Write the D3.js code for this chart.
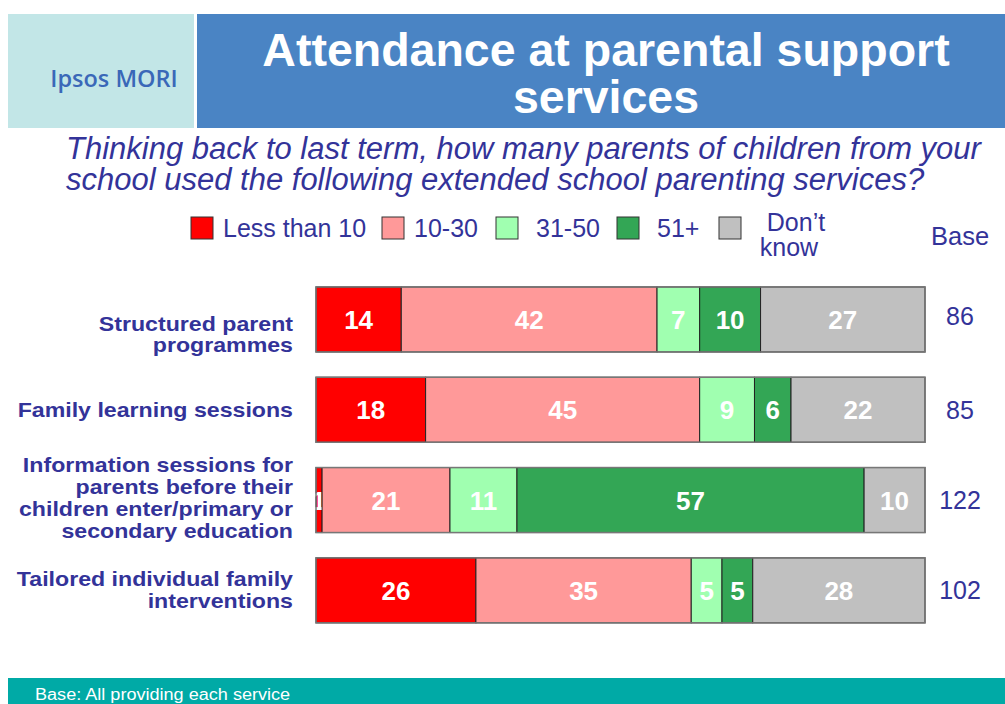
<!DOCTYPE html>
<html>
<head>
<meta charset="utf-8">
<script src="https://cdn.jsdelivr.net/npm/d3@7"></script>
<style>
  body { margin: 0; background: #fff; }
  svg { display: block; font-family: Arial, "Liberation Sans", sans-serif; }
</style>
</head>
<body>
<div id="graph"></div>
<script>
// Données
const services = [
  ['Structured parent', 'programmes'],
  ['Family learning sessions'],
  ['Information sessions for', 'parents before their', 'children enter/primary or', 'secondary education'],
  ['Tailored individual family', 'interventions']
]
const categories = ['Less than 10', '10-30', '31-50', '51+', "Don\u2019t know"]
const lessThan10 = [14, 18, 1, 26]
const from10to30 = [42, 45, 21, 35]
const from31to50 = [7, 9, 11, 5]
const over51 = [10, 6, 57, 5]
const dontKnow = [27, 22, 10, 28]
const bases = [86, 85, 122, 102]

const couleurs = ['#ff0000', '#ff9999', '#a0ffb0', '#33a655', '#c0c0c0']
const bleuTexte = '#333399'

const width = 1005
const height = 704
const etirement = 1.13 // le texte de la diapo d'origine est étiré horizontalement

const svg = d3.select('#graph')
  .append('svg')
  .attr('width', width)
  .attr('height', height)

//---------------------------------------------------------------------------------------
// Bandeau titre

svg.append('rect')
  .attr('x', 8).attr('y', 14).attr('width', 186).attr('height', 114)
  .attr('fill', '#c2e6e7')

svg.append('text')
  .attr('x', 114).attr('y', 87)
  .attr('text-anchor', 'middle')
  .attr('font-family', '"Open Sans", sans-serif')
  .attr('font-weight', 600)
  .attr('font-size', 23.5)
  .attr('fill', '#3a68b8')
  .text('Ipsos MORI')

svg.append('rect')
  .attr('x', 197).attr('y', 14).attr('width', 808).attr('height', 114)
  .attr('fill', '#4a84c4')

const titre = svg.append('text')
  .attr('text-anchor', 'middle')
  .attr('font-weight', 'bold')
  .attr('font-size', 46.5)
  .attr('fill', '#fff')

titre.append('tspan').attr('x', 606).attr('y', 66).text('Attendance at parental support')
titre.append('tspan').attr('x', 606).attr('y', 113).text('services')

// Sous-titre
const sousTitre = svg.append('text')
  .attr('font-style', 'italic')
  .attr('font-size', 31)
  .attr('fill', bleuTexte)

sousTitre.append('tspan').attr('x', 66).attr('y', 159)
  .text('Thinking back to last term, how many parents of children from your')
sousTitre.append('tspan').attr('x', 66).attr('y', 190)
  .text('school used the following extended school parenting services?')

//---------------------------------------------------------------------------------------
// Légende

const legendeX = [191, 382, 496, 617, 719]
const legende = svg.append('g').attr('class', 'legende')

categories.forEach((c, i) => {
  legende.append('rect')
    .attr('x', legendeX[i]).attr('y', 217)
    .attr('width', 22).attr('height', 22)
    .attr('fill', couleurs[i])
    .attr('stroke', '#333').attr('stroke-width', 1)

  if (i < 4) {
    legende.append('text')
      .attr('x', legendeX[i] + (i >= 2 ? 40 : 32))
      .attr('y', 237)
      .attr('font-size', 25)
      .attr('fill', bleuTexte)
      .text(c)
  } else {
    const t = legende.append('text')
      .attr('text-anchor', 'middle')
      .attr('font-size', 25)
      .attr('fill', bleuTexte)
    t.append('tspan').attr('x', 796).attr('y', 231).text('Don\u2019t')
    t.append('tspan').attr('x', 789).attr('y', 256).text('know')
  }
})

svg.append('text')
  .attr('x', 960).attr('y', 245)
  .attr('text-anchor', 'middle')
  .attr('font-size', 25.5)
  .attr('fill', bleuTexte)
  .text('Base')

//---------------------------------------------------------------------------------------
// Barres empilées

const table = services.map((s, i) => ({
  idx: i,
  'Less than 10': lessThan10[i],
  '10-30': from10to30[i],
  '31-50': from31to50[i],
  '51+': over51[i],
  "Don\u2019t know": dontKnow[i]
}))

const stack = d3.stack()
  .keys(categories)
  .offset(d3.stackOffsetExpand)

const series = stack(table)

const scaleX = d3.scaleLinear().domain([0, 1]).range([316, 925])
const scaleY = d3.scaleBand()
  .domain(d3.range(services.length))
  .range([270.7, 639.1])
  .paddingInner(0.28)
  .paddingOuter(0.18)

const groupes = svg.append('g')
  .selectAll('g')
  .data(series)
  .join('g')
  .attr('fill', (d, i) => couleurs[i])

groupes.selectAll('rect')
  .data(d => d)
  .join('rect')
  .attr('x', d => scaleX(d[0]))
  .attr('y', d => scaleY(d.data.idx))
  .attr('width', d => scaleX(d[1]) - scaleX(d[0]))
  .attr('height', scaleY.bandwidth())
  .attr('stroke', '#222')
  .attr('stroke-width', 1)

// Contour gris des barres
svg.append('g')
  .selectAll('rect')
  .data(table)
  .join('rect')
  .attr('x', scaleX(0))
  .attr('y', d => scaleY(d.idx))
  .attr('width', scaleX(1) - scaleX(0))
  .attr('height', scaleY.bandwidth())
  .attr('fill', 'none')
  .attr('stroke', '#777')
  .attr('stroke-width', 1.5)

// Valeurs dans les barres
groupes.selectAll('text')
  .data(d => d.map(v => ({ v, key: d.key })))
  .join('text')
  .attr('x', d => (scaleX(d.v[0]) + scaleX(d.v[1])) / 2)
  .attr('y', d => scaleY(d.v.data.idx) + scaleY.bandwidth() / 2 + 9.5)
  .attr('text-anchor', 'middle')
  .attr('font-weight', 'bold')
  .attr('font-size', 26)
  .attr('fill', '#fff')
  .text(d => d.v.data[d.key])

// Libellés des services
const decalageLibelle = [22, 7, 5, 7]

svg.append('g')
  .selectAll('text')
  .data(services)
  .join('text')
  .attr('text-anchor', 'end')
  .attr('font-weight', 'bold')
  .attr('font-size', 20.5)
  .attr('fill', bleuTexte)
  .attr('transform', `translate(293,0) scale(${etirement},1)`)
  .each(function (lignes, i) {
    const cy = scaleY(i) + scaleY.bandwidth() / 2 + decalageLibelle[i]
    const y0 = cy - (lignes.length - 1) * 21.7 / 2
    d3.select(this).selectAll('tspan')
      .data(lignes)
      .join('tspan')
      .attr('x', 0)
      .attr('y', (l, j) => y0 + j * 21.7)
      .text(l => l)
  })

// Bases
svg.append('g')
  .selectAll('text')
  .data(bases)
  .join('text')
  .attr('x', 960)
  .attr('y', (d, i) => scaleY(i) + scaleY.bandwidth() / 2 + (i === 0 ? 5.5 : 9))
  .attr('text-anchor', 'middle')
  .attr('font-size', 25)
  .attr('fill', bleuTexte)
  .text(d => d)

//---------------------------------------------------------------------------------------
// Pied de page

svg.append('rect')
  .attr('x', 8).attr('y', 678).attr('width', 997).attr('height', 26)
  .attr('fill', '#00aaa6')

svg.append('text')
  .attr('transform', `translate(35,700) scale(${etirement},1)`)
  .attr('font-size', 16)
  .attr('fill', '#fff')
  .text('Base: All providing each service')
</script>
</body>
</html>
